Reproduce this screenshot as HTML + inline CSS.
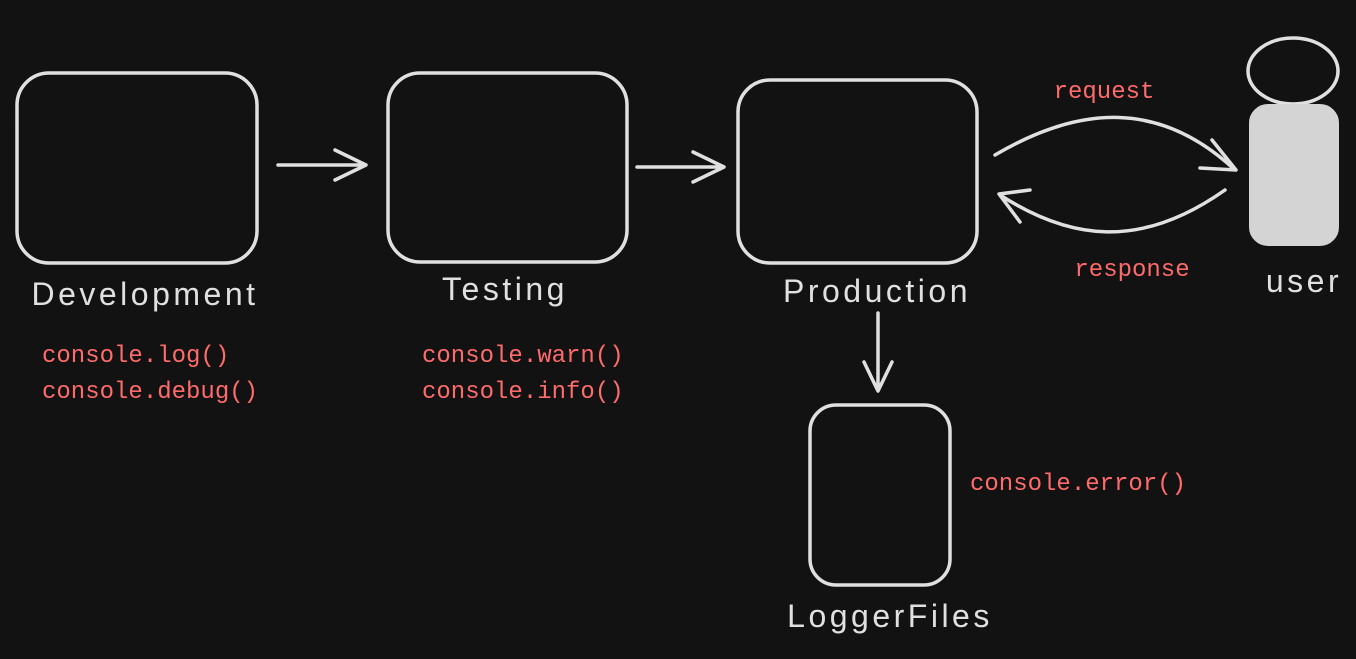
<!DOCTYPE html>
<html><head><meta charset="utf-8"><style>
html,body{margin:0;padding:0;background:#121212;}
svg{display:block}
text{font-family:"Liberation Sans",sans-serif;}
.l{fill:#e0e0e0;font-size:32px;letter-spacing:3.5px;}
.r{fill:#ff6b6b;font-size:24px;font-family:"Liberation Mono",monospace;}
</style></head><body>
<svg width="1356" height="659" viewBox="0 0 1356 659" xmlns="http://www.w3.org/2000/svg">
<rect width="1356" height="659" fill="#121212"/>
<g fill="none" stroke="#e0e0e0" stroke-width="3.5" stroke-linecap="round" stroke-linejoin="round">
<rect x="17" y="73" width="240" height="190" rx="32"/>
<rect x="388" y="73" width="239" height="189" rx="32"/>
<rect x="738" y="80" width="239" height="183" rx="32"/>
<rect x="810" y="405" width="140" height="180" rx="26"/>
<ellipse cx="1293" cy="71" rx="45" ry="33"/>
<path d="M278 165 L365 165 M335 150 L366 165 L335 180"/>
<path d="M637 167 L723 167 M693 152 L724 167 L693 182"/>
<path d="M878 313 L878 390 M864 362 L878 391 L892 362"/>
<path d="M995 155 C1080 105 1160 100 1235 170 M1212 140 L1236 170 L1200 168"/>
<path d="M1225 190 C1140 250 1070 240 1000 195 M1030 190 L999 194 L1020 222"/>
</g>
<rect x="1250" y="105" width="88" height="140" rx="18" fill="#d4d4d4" stroke="#d4d4d4" stroke-width="2"/>
<text class="l" x="145" y="305" text-anchor="middle">Development</text>
<text class="l" x="505" y="300" text-anchor="middle">Testing</text>
<text class="l" x="877" y="302" text-anchor="middle">Production</text>
<text class="l" x="1304" y="292" text-anchor="middle">user</text>
<text class="l" x="890" y="627" text-anchor="middle">LoggerFiles</text>
<text class="r" x="42" y="362">console.log()</text>
<text class="r" x="42" y="398">console.debug()</text>
<text class="r" x="422" y="362">console.warn()</text>
<text class="r" x="422" y="398">console.info()</text>
<text class="r" x="970" y="490">console.error()</text>
<text class="r" x="1104" y="98" text-anchor="middle">request</text>
<text class="r" x="1132" y="276" text-anchor="middle">response</text>
</svg>
</body></html>
